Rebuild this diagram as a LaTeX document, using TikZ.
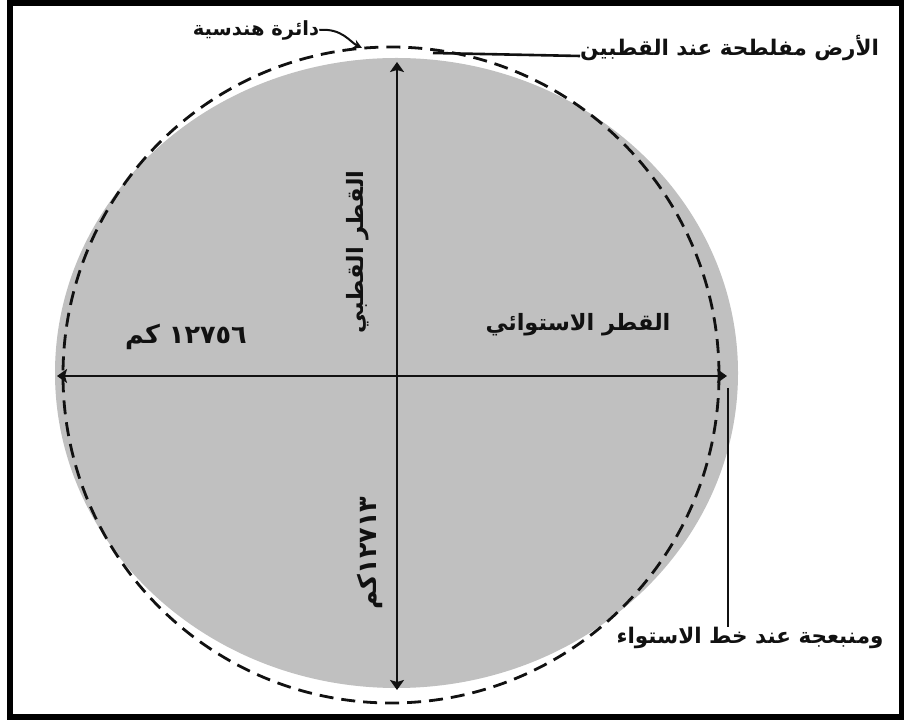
\documentclass[tikz,border=0pt]{standalone}
\usepackage{fontspec}
\usepackage{tikz}
\usetikzlibrary{arrows.meta,positioning,calc}
\TeXXeTstate=1
\newfontfamily\arabicfont[Script=Arabic]{DejaVu Sans}
\definecolor{earthgray}{HTML}{C0C0C0}
\definecolor{inkblack}{HTML}{111111}
\tikzset{
  arabictext/.style={font=\arabicfont\bfseries\fontsize{21.5}{24}\selectfont,
                     inner sep=0pt,text=inkblack},
  bigtext/.style={arabictext,font=\arabicfont\bfseries\fontsize{22.5}{26}\selectfont},
  numtext/.style={arabictext,font=\arabicfont\bfseries\fontsize{25.5}{28}\selectfont},
  smalltext/.style={arabictext,font=\arabicfont\bfseries\fontsize{19.5}{22}\selectfont},
  axisarrow/.style={{Stealth[length=10pt,width=14pt,inset=2pt]}-{Stealth[length=10pt,width=14pt,inset=2pt]},
                    line width=2.8pt,inkblack},
  dashring/.style={draw=inkblack,line width=2.8pt,dash pattern=on 14pt off 8pt},
  leader/.style={line width=2.6pt,inkblack},
  pointer/.style={-{Stealth[length=9pt,width=9pt]},line width=2pt,inkblack},
}

\begin{document}
\begin{tikzpicture}[x=1pt,y=1pt]
  \useasboundingbox (0,0) rectangle (904,720);
  \fill[white] (0,0) rectangle (904,720);
  \draw[line width=6pt] (10,3.5) rectangle (901.5,717);

  \fill[earthgray] (396.5,347) ellipse [x radius=341.5pt,y radius=315pt];
  \draw[dashring] (391,345) circle [radius=328pt];

  \coordinate (wedge) at (57,344);
  \coordinate (eedge) at (727,344);
  \coordinate (npole) at (397,658);
  \coordinate (spole) at (397,30);
  \draw[axisarrow] (wedge) -- (eedge);
  \draw[axisarrow] (npole) -- (spole);

  \node[bigtext] (eqname) at (578,395) {\beginR القطر الاستوائي\endR};
  \node[numtext] (eqlen) at (186,383) {\beginR\beginL ١٢٧٥٦\endL{} كم\endR};
  \node[bigtext,rotate=90] (polname) at (358,468) {\beginR القطر القطبي\endR};
  \node[numtext,rotate=90] (pollen) at (370,167) {\beginR\beginL ١٢٧١٣\endL{}كم\endR};

  \node[smalltext] (circlbl) at (256,690) {\beginR دائرة هندسية\endR};
  \coordinate (circpt) at (362,672);
  \draw[pointer] (circlbl.east) .. controls (342,692) and (350,678) .. (circpt);

  \node[arabictext,anchor=base west] (flatlbl) at (580,664) {\beginR الأرض مفلطحة عند القطبين\endR};
  \coordinate (flatpt) at (433,667);
  \draw[leader] (flatpt) -- (flatlbl.base west);

  \node[arabictext] (bulglbl) at (750,82) {\beginR ومنبعجة عند خط الاستواء\endR};
  \coordinate (bulgpt) at (728,332);
  \draw[leader] (bulgpt) -- (bulgpt |- bulglbl.north);
\end{tikzpicture}
\end{document}
